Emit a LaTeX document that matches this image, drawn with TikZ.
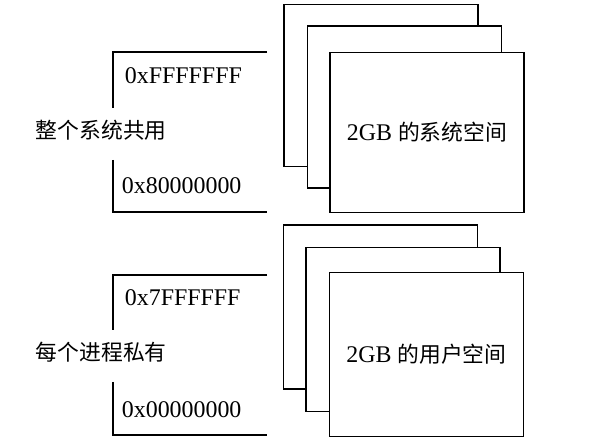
\documentclass[tikz,border=0pt]{standalone}
\usepackage{fontspec}
\setmainfont{Liberation Serif}
\newfontfamily\cjk{Noto Sans CJK SC}
\begin{document}
\begin{tikzpicture}
[
    x=0.025cm, y=-0.025cm,
    line width=1.3pt,
    page/.style={draw, fill=white, minimum width=4.85cm, minimum height=4.05cm, inner sep=0pt},
    addr/.style={anchor=west, inner sep=0pt, font=\fontsize{17}{18}\selectfont},
    owner/.style={anchor=west, inner sep=0pt, font=\fontsize{15.5}{18}\selectfont\cjk},
    space/.style={font=\fontsize{17}{18}\selectfont},
]
\useasboundingbox (0,0) rectangle (600,445);
\node [page] (sysback) at (381,85.5) {};
\node [page] (sysmid) at (404.5,107) {};
\node [page, space, minimum height=4cm] (sysfront) at (427,132.5) {2GB {\cjk\fontsize{15.5}{18}\selectfont 的系统空间}};
\node [page, minimum height=4.1cm] (usrback) at (380.5,307) {};
\node [page, minimum height=4.1cm] (usrmid) at (403,329.5) {};
\node [page, space, minimum height=4.1cm] (usrfront) at (426.5,354.5) {2GB {\cjk\fontsize{15.5}{18}\selectfont 的用户空间}};
\coordinate (systop) at (267,52);
\coordinate (sysbot) at (267,212);
\coordinate (usrtop) at (267,275);
\coordinate (usrbot) at (267,435);
\draw (systop) -- (113,52) -- (113,108);
\draw (113,160) -- (113,212) -- (sysbot);
\draw (usrtop) -- (113,275) -- (113,330);
\draw (113,382) -- (113,435) -- (usrbot);
\node [addr] (syshigh) at (124,76) {0xFFFFFFF};
\node [owner] (sysowner) at (35,130) {整个系统共用};
\node [addr] (syslow) at (121,186) {0x80000000};
\node [addr] (usrhigh) at (124,298) {0x7FFFFFF};
\node [owner] (usrowner) at (35,352) {每个进程私有};
\node [addr] (usrlow) at (121,410) {0x00000000};
\end{tikzpicture}
\end{document}
